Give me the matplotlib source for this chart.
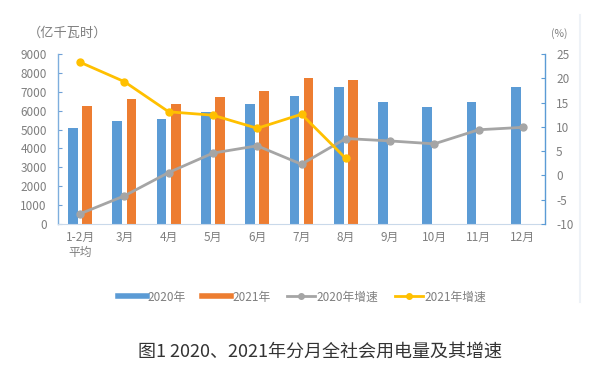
import matplotlib
matplotlib.use("Agg")
import matplotlib.pyplot as plt
from matplotlib.lines import Line2D
import numpy as np

plt.rcParams['font.family'] = ['Noto Sans CJK SC', 'DejaVu Sans']
plt.rcParams['axes.unicode_minus'] = False

categories = ["1-2月\n平均", "3月", "4月", "5月", "6月", "7月", "8月", "9月", "10月", "11月", "12月"]
use_2020 = [5080, 5470, 5560, 5910, 6340, 6790, 7270, 6440, 6180, 6440, 7270]
use_2021 = [6250, 6600, 6340, 6720, 7040, 7750, 7620]
growth_2020 = [-7.9, -4.2, 0.6, 4.6, 6.1, 2.3, 7.6, 7.1, 6.5, 9.4, 9.9]
growth_2021 = [23.3, 19.3, 13.1, 12.4, 9.7, 12.6, 3.5]

C_BLUE = "#5B9BD5"
C_ORANGE = "#ED7D31"
C_GRAY = "#A5A5A5"
C_YELLOW = "#FFC000"
TICK_C = "#7F7F7F"

fig = plt.figure(figsize=(6.12, 3.78), dpi=100)
ax = fig.add_axes([58/612, 1-224/378, (545-58)/612, (224-54)/378])
ax2 = ax.twinx()

x = np.arange(len(categories))
w = 0.22
off = 0.16
ax.bar(x - off, use_2020, width=w, color=C_BLUE)
ax.bar(np.arange(len(use_2021)) + off, use_2021, width=w, color=C_ORANGE)

ax2.plot(x, growth_2020, color=C_GRAY, lw=2.0, marker='o', ms=5)
ax2.plot(np.arange(len(growth_2021)), growth_2021, color=C_YELLOW, lw=2.0, marker='o', ms=5)

ax.set_xlim(-0.5, len(categories) - 0.5)
ax.set_ylim(0, 9000)
ax.set_yticks(range(0, 9001, 1000))
ax2.set_ylim(-10, 25)
ax2.set_yticks(range(-10, 26, 5))

ax.set_xticks(x)
ax.set_xticklabels(categories, fontsize=8.5, color=TICK_C, linespacing=1.25)
ax.tick_params(axis='x', length=0, pad=5)
ax.tick_params(axis='y', direction='in', length=3, color="#6FA0D6", labelsize=8.5, labelcolor=TICK_C, pad=8)
ax2.tick_params(axis='y', direction='in', length=3, color="#5B9BD5", labelsize=8.5, labelcolor=TICK_C, pad=8)

for a in (ax, ax2):
    a.spines['top'].set_visible(False)
ax.spines['left'].set_color("#7EAEDD")
ax.spines['left'].set_linewidth(1.0)
ax.spines['bottom'].set_color("#C9D9EA")
ax.spines['right'].set_visible(False)
ax2.spines['left'].set_visible(False)
ax2.spines['bottom'].set_visible(False)
ax2.spines['right'].set_color("#5B9BD5")
ax2.spines['right'].set_linewidth(1.0)

fig.text(28/612, 1-33/378, "（亿千瓦时）", fontsize=9.5, color=TICK_C, va='center', ha='left')
fig.text(559/612, 1-34/378, "(%)", fontsize=7.5, color=TICK_C, va='center', ha='center')

handles = [
    Line2D([0], [0], color=C_BLUE, lw=4),
    Line2D([0], [0], color=C_ORANGE, lw=4),
    Line2D([0], [0], color=C_GRAY, lw=2, marker='o', ms=4),
    Line2D([0], [0], color=C_YELLOW, lw=2, marker='o', ms=4),
]
labels = ["2020年", "2021年", "2020年增速", "2021年增速"]
leg = fig.legend(handles, labels, loc='center', bbox_to_anchor=(302/612, 1-297/378), ncol=4,
                 frameon=False, fontsize=8.5, handlelength=2.4, handletextpad=0.1, columnspacing=1.4)
for t in leg.get_texts():
    t.set_color(TICK_C)

fig.text(320/612, 1-352/378, "图1 2020、2021年分月全社会用电量及其增速", fontsize=13, color="#333333",
         ha='center', va='center')

fig.add_artist(Line2D([580/612, 580/612], [1-15/378, 1-302/378], color="#EEF2F7", lw=1.5,
                      transform=fig.transFigure))

fig.savefig("out.png", dpi=100)
